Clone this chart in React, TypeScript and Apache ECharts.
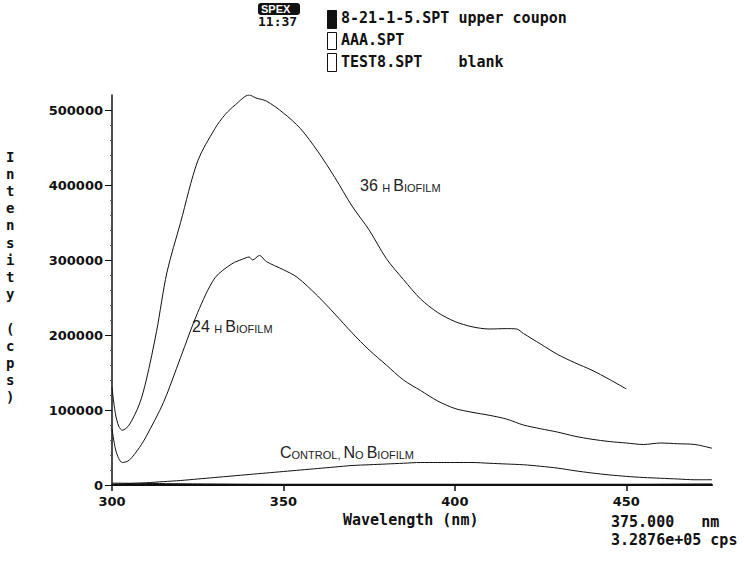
import { useEffect, useRef } from "react";
import * as echarts from "echarts";

const wl36 = [300, 301, 302, 303, 305, 308, 310, 313, 316, 320, 325, 330, 333, 336, 340, 342, 345, 350, 355, 360, 365, 370, 375, 380, 385, 390, 395, 400, 405, 410, 415, 418, 420, 425, 430, 435, 440, 445, 450];
const int36 = [130000, 95000, 78000, 73000, 80000, 108000, 140000, 205000, 283000, 350000, 432000, 475000, 494000, 507000, 520000, 516000, 512000, 496000, 475000, 445000, 410000, 372000, 340000, 302000, 274000, 248000, 230000, 218000, 211000, 208000, 208500, 208000, 202000, 188000, 174000, 163000, 153000, 141000, 128000];

const wl24 = [300, 301, 302, 303, 305, 308, 310, 315, 320, 325, 330, 335, 338, 340, 341, 343, 345, 350, 354, 360, 365, 370, 375, 380, 385, 390, 395, 400, 405, 410, 415, 420, 425, 430, 435, 440, 445, 450, 455, 460, 465, 470, 475];
const int24 = [75000, 48000, 35000, 30000, 33000, 50000, 65000, 110000, 170000, 230000, 276000, 295000, 301000, 304000, 300000, 306000, 298000, 287000, 277000, 252000, 228000, 203000, 180000, 160000, 140000, 126000, 112000, 102000, 97000, 93000, 88000, 80000, 75000, 70500, 65000, 61000, 58000, 56000, 54000, 56000, 55000, 54000, 49000];

const wlCtrl = [300, 305, 310, 315, 320, 325, 330, 335, 340, 345, 350, 355, 360, 365, 370, 375, 380, 385, 390, 395, 400, 405, 410, 415, 420, 425, 430, 435, 440, 445, 450, 455, 460, 465, 470, 475];
const intCtrl = [1000, 2000, 3000, 4500, 6000, 8000, 10000, 12000, 14000, 16000, 18000, 20000, 22000, 24000, 26000, 27000, 28000, 29000, 30000, 30000, 30000, 30000, 29000, 28000, 27000, 25000, 22500, 19000, 16000, 13500, 11500, 10000, 9000, 8000, 7000, 7000];

const wlBlank = [300, 325, 350, 375, 400, 425, 450, 475];
const intBlank = [2500, 1500, 1000, 1000, 1000, 1000, 1000, 1500];

const yTicks = [0, 100000, 200000, 300000, 400000, 500000];
const xTicks = [300, 350, 400, 450];

const legendLines = ["8-21-1-5.SPT upper coupon", "AAA.SPT", "TEST8.SPT    blank"];
const yTitleChars = "Intensity (cps)".split("");

const pairs = (xs: number[], ys: number[]) => xs.map((x, i) => [x, ys[i]]);

const MONO = "DejaVu Sans Mono";
const SANS = "Liberation Sans";

const smallCaps = {
  a: { fontSize: 16, fontFamily: SANS, fill: "#222", verticalAlign: "bottom" },
  s: { fontSize: 11, fontFamily: SANS, fill: "#222", verticalAlign: "bottom" },
};

export default function App() {
  const ref = useRef<HTMLDivElement>(null);
  useEffect(() => {
    const chart = echarts.init(ref.current!, null, { renderer: "svg" });
    const lineSeries = (name: string, data: number[][]) => ({
      name,
      type: "line",
      data,
      showSymbol: false,
      symbol: "none",
      smooth: 0.3,
      lineStyle: { color: "#111", width: 1 },
      silent: true,
    });
    const graphics: any[] = [
      { type: "rect", left: 258, top: 3, shape: { width: 42, height: 12, r: 3 }, style: { fill: "#111" } },
      { type: "text", left: 261, top: 3, style: { text: "SPEX", fill: "#fff", font: `bold 11px ${SANS}` } },
      { type: "text", left: 258, top: 15, style: { text: "11:37", fill: "#111", font: `bold 13px ${MONO}` } },
      { type: "rect", left: 327, top: 10, shape: { width: 9, height: 18 }, style: { fill: "#111", stroke: "#111", lineWidth: 1 } },
      { type: "rect", left: 327, top: 32, shape: { width: 9, height: 17 }, style: { fill: "#fff", stroke: "#111", lineWidth: 1 } },
      { type: "rect", left: 327, top: 53, shape: { width: 9, height: 18 }, style: { fill: "#fff", stroke: "#111", lineWidth: 1 } },
      ...legendLines.map((t, i) => ({
        type: "text",
        left: 341,
        top: 10 + i * 22,
        style: { text: t, fill: "#111", font: `bold 15px ${MONO}` },
      })),
      {
        type: "text",
        left: 6,
        top: 148,
        style: {
          text: yTitleChars.map((c) => (c === " " ? "" : c)).join("\n"),
          fill: "#111",
          font: `bold 14px ${MONO}`,
          lineHeight: 17.2,
          align: "left",
        },
      },
      { type: "text", left: 343, top: 512, style: { text: "Wavelength (nm)", fill: "#111", font: `bold 15px ${MONO}` } },
      { type: "text", left: 611, top: 514, style: { text: "375.000   nm", fill: "#111", font: `bold 15px ${MONO}` } },
      { type: "text", left: 611, top: 532, style: { text: "3.2876e+05 cps", fill: "#111", font: `bold 15px ${MONO}` } },
      { type: "text", left: 360, top: 177, style: { text: "{a|36 }{s|H }{a|B}{s|IOFILM}", rich: smallCaps } },
      { type: "text", left: 192, top: 318, style: { text: "{a|24 }{s|H }{a|B}{s|IOFILM}", rich: smallCaps } },
      { type: "text", left: 280, top: 444, style: { text: "{a|C}{s|ONTROL, }{a|N}{s|O }{a|B}{s|IOFILM}", rich: smallCaps } },
    ];
    chart.setOption({
      animation: false,
      backgroundColor: "#fff",
      grid: { left: 112, right: 32, top: 95, bottom: 76, containLabel: false },
      xAxis: {
        type: "value",
        min: 300,
        max: 475,
        interval: 50,
        axisLine: { show: true, lineStyle: { color: "#111", width: 2 } },
        axisTick: { show: true, length: 6, inside: false, customValues: xTicks, lineStyle: { color: "#111", width: 1.5 } },
        axisLabel: {
          show: true,
          margin: 10,
          customValues: xTicks,
          formatter: (v: number) => String(v),
          color: "#111",
          fontFamily: "DejaVu Sans",
          fontWeight: "bold",
          fontSize: 13,
        },
        splitLine: { show: false },
      },
      yAxis: {
        type: "value",
        min: 0,
        max: 520000,
        interval: 100000,
        axisLine: { show: true, lineStyle: { color: "#111", width: 1.5 } },
        axisTick: { show: true, length: 7, inside: false, customValues: yTicks, lineStyle: { color: "#111", width: 1 } },
        minorTick: { show: true, splitNumber: 5, length: 2, lineStyle: { color: "#555" } },
        axisLabel: {
          show: true,
          margin: 9,
          customValues: yTicks,
          formatter: (v: number) => String(v),
          color: "#111",
          fontFamily: "DejaVu Sans",
          fontWeight: "bold",
          fontSize: 13,
        },
        splitLine: { show: false },
      },
      series: [
        lineSeries("36 h Biofilm", pairs(wl36, int36)),
        lineSeries("24 h Biofilm", pairs(wl24, int24)),
        lineSeries("Control, No Biofilm", pairs(wlCtrl, intCtrl)),
        lineSeries("Blank", pairs(wlBlank, intBlank)),
      ],
      graphic: graphics,
    });
    return () => chart.dispose();
  }, []);
  return <div ref={ref} style={{ position: "absolute", left: 0, top: 0, width: 744, height: 561 }} />;
}
